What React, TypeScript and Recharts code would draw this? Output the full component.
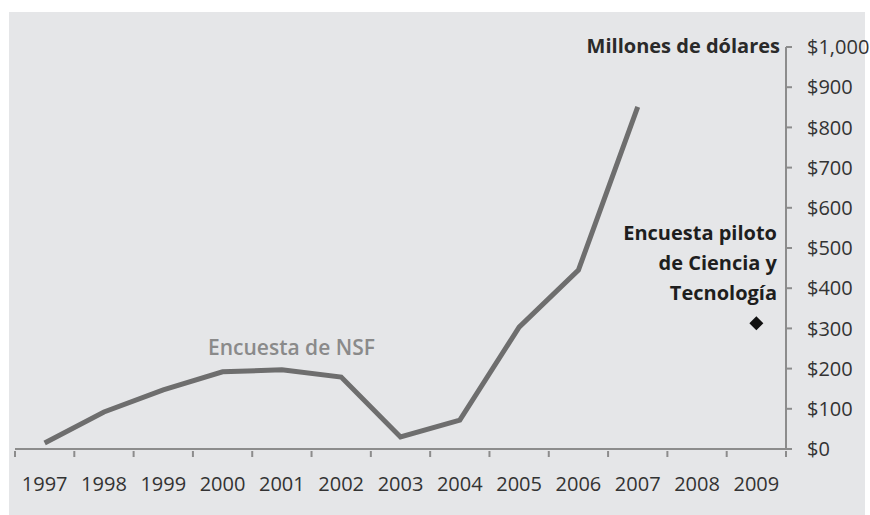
import React from "react";
import { ComposedChart, Line, XAxis, YAxis } from "recharts";

const years = ["1997", "1998", "1999", "2000", "2001", "2002", "2003", "2004", "2005", "2006", "2007", "2008", "2009"];
const nsfSurvey = [15, 92, 147, 192, 197, 179, 30, 72, 303, 445, 851, null, null];
const pilotSurvey = [null, null, null, null, null, null, null, null, null, null, null, null, 313];
const yTicks = [0, 100, 200, 300, 400, 500, 600, 700, 800, 900, 1000];

const data = years.map((year, i) => ({
  year,
  nsf: nsfSurvey[i],
  piloto: pilotSurvey[i]
}));

const W = 870;
const H = 515;
const M = { top: 47, right: 4, left: 15, bottom: 0 };
const Y_W = 80;
const X_H = 66;
const FONT = "'Open Sans', sans-serif";
const BAND = (W - M.left - M.right - Y_W) / years.length;
const AXIS = "#8c8c8c";
const TEXT = "#333";

function YearTick(props: any) {
  const { x, y, payload, index } = props;
  const last = index === years.length - 1;
  return (
    <g>
      <line x1={x - BAND / 2} y1={y - 6} x2={x - BAND / 2} y2={y} stroke={AXIS} strokeWidth={2} />
      {last && <line x1={x + BAND / 2} y1={y - 6} x2={x + BAND / 2} y2={y} stroke={AXIS} strokeWidth={2} />}
      <text x={x} y={y + 20} dy="0.71em" textAnchor="middle" fill={TEXT} fontSize={20} fontFamily={FONT}>
        {payload.value}
      </text>
    </g>
  );
}

function Diamond(props: any) {
  const { cx, cy } = props;
  if (cx == null || cy == null) return null;
  const r = 7;
  return <polygon points={`${cx},${cy - r} ${cx + r},${cy} ${cx},${cy + r} ${cx - r},${cy}`} fill="#111" />;
}

export default function App() {
  return (
    <div style={{ position: "absolute", left: 0, top: 0, width: W, height: H, background: "#fff", fontFamily: FONT }}>
      <div style={{ position: "absolute", left: 9, top: 12, width: 856, height: H - 12, background: "#e5e6e8" }} />
      <div style={{ position: "absolute", left: 0, top: 0 }}>
        <ComposedChart width={W} height={H} data={data} margin={M}>
          <XAxis
            dataKey="year"
            height={X_H}
            padding={{ left: BAND / 2, right: BAND / 2 }}
            axisLine={{ stroke: AXIS, strokeWidth: 2 }}
            tickLine={false}
            tick={<YearTick />}
            interval={0}
          />
          <YAxis
            orientation="right"
            width={Y_W}
            domain={[0, 1000]}
            ticks={yTicks}
            interval={0}
            axisLine={{ stroke: AXIS, strokeWidth: 2 }}
            tickLine={{ stroke: AXIS, strokeWidth: 2 }}
            tickSize={6}
            tickMargin={15}
            tickFormatter={(v: number) => "$" + v.toLocaleString("en-US")}
            tick={{ fill: TEXT, fontSize: 20, fontFamily: FONT, textAnchor: "start" }}
          />
          <Line
            dataKey="nsf"
            stroke="#6e6e6e"
            strokeWidth={5}
            dot={false}
            activeDot={false}
            type="linear"
            isAnimationActive={false}
          />
          <Line
            dataKey="piloto"
            stroke="none"
            dot={<Diamond />}
            activeDot={false}
            isAnimationActive={false}
          />
        </ComposedChart>
      </div>
      <div style={{ position: "absolute", right: W - 780, top: 34, fontSize: 20, fontWeight: 700, color: "#2a2a2a", whiteSpace: "nowrap", lineHeight: "24px" }}>
        Millones de dólares
      </div>
      <div style={{ position: "absolute", right: W - 777, top: 218, fontSize: 20, fontWeight: 700, color: "#1e1e1e", textAlign: "right", lineHeight: "30px", whiteSpace: "nowrap" }}>
        Encuesta piloto
        <br />
        de Ciencia y
        <br />
        Tecnología
      </div>
      <div style={{ position: "absolute", left: 208, top: 334, fontSize: 21, fontWeight: 600, color: "#8a8a8a", whiteSpace: "nowrap", lineHeight: "26px" }}>
        Encuesta de NSF
      </div>
    </div>
  );
}
